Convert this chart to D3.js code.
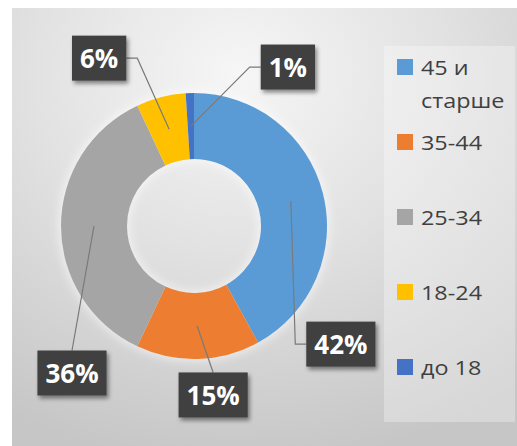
<!DOCTYPE html>
<html>
<head>
<meta charset="utf-8">
<script src="https://cdn.jsdelivr.net/npm/d3@7"></script>
<style>
  body { margin: 0; background: #fff; }
  svg { display: block; }
</style>
</head>
<body>
<div id="chart"></div>
<script>
// data
const categories = ["45 и старше", "35-44", "25-34", "18-24", "до 18"];
const shares = [42, 15, 36, 6, 1];
const colors = ["#5B9BD5", "#ED7D31", "#A5A5A5", "#FFC000", "#4472C4"];

// label placement (offset of the box from the slice centroid, and which side the leader meets)
const labelNudge = [[50, 143], [16, 69], [-22, 147], [-70, -71], [97, -59]];
const labelSide = ["left", "top", "top", "right", "left"];

const width = 517, height = 446;
const cx = 194, cy = 226;
const outerR = 133, innerR = 67;

const svg = d3.select("#chart")
    .append("svg")
    .attr("width", width)
    .attr("height", height);

const defs = svg.append("defs");

const bg = defs.append("radialGradient")
    .attr("id", "bg")
    .attr("cx", "45%").attr("cy", "15%").attr("r", "90%");
bg.append("stop").attr("offset", "0%").attr("stop-color", "#f6f6f6");
bg.append("stop").attr("offset", "45%").attr("stop-color", "#e2e2e2");
bg.append("stop").attr("offset", "100%").attr("stop-color", "#c6c6c6");

const shadow = defs.append("filter")
    .attr("id", "shadow")
    .attr("x", "-30%").attr("y", "-30%").attr("width", "160%").attr("height", "160%");
shadow.append("feDropShadow")
    .attr("dx", 2).attr("dy", 3)
    .attr("stdDeviation", 2)
    .attr("flood-color", "#000")
    .attr("flood-opacity", 0.45);

const glow = defs.append("filter")
    .attr("id", "glow")
    .attr("x", "-20%").attr("y", "-20%").attr("width", "140%").attr("height", "140%");
glow.append("feGaussianBlur").attr("stdDeviation", 4);

// chart area
svg.append("rect")
    .attr("x", 12).attr("y", 8)
    .attr("width", width - 12).attr("height", height - 8)
    .attr("fill", "url(#bg)");

// legend panel
svg.append("rect")
    .attr("x", 384).attr("y", 46)
    .attr("width", 131).attr("height", 376)
    .attr("fill", "#fff")
    .attr("opacity", 0.3);

const g = svg.append("g")
    .attr("transform", `translate(${cx}, ${cy})`);

const pie = d3.pie().sort(null).value(d => d);
const arcs = pie(shares);

const arc = d3.arc().innerRadius(innerR).outerRadius(outerR);
const midArc = d3.arc().innerRadius((innerR + outerR) / 2).outerRadius((innerR + outerR) / 2);
const haloArc = d3.arc().innerRadius(innerR - 3).outerRadius(outerR + 3);

// soft halo behind the ring
g.append("g")
    .attr("filter", "url(#glow)")
    .selectAll("path")
    .data(arcs)
    .join("path")
    .attr("d", haloArc)
    .attr("fill", "#fff")
    .attr("opacity", 0.5);

g.selectAll("path.slice")
    .data(arcs)
    .join("path")
    .attr("class", "slice")
    .attr("d", arc)
    .attr("fill", (d, i) => colors[i]);

// data labels with leader lines
const boxH = 45, pad = 8, elbow = 11;
const labels = g.append("g");

arcs.forEach((d, i) => {
    const [px, py] = midArc.centroid(d);
    const bx = px + labelNudge[i][0];
    const by = py + labelNudge[i][1];

    const lbl = labels.append("g");
    const txt = lbl.append("text")
        .attr("x", bx).attr("y", by)
        .attr("text-anchor", "middle")
        .attr("dominant-baseline", "central")
        .style("font-family", "'Open Sans', sans-serif")
        .style("font-weight", "bold")
        .style("font-size", "26px")
        .attr("fill", "#fff")
        .text(shares[i] + "%");
    const tw = txt.node().getComputedTextLength();
    const bw = tw + pad * 2;

    let pts;
    if (labelSide[i] === "left") {
        const ax = bx - bw / 2;
        pts = [[px, py], [ax - elbow, by], [ax, by]];
    } else if (labelSide[i] === "right") {
        const ax = bx + bw / 2;
        pts = [[px, py], [ax + elbow, by], [ax, by]];
    } else {
        pts = [[px, py], [bx, by - boxH / 2]];
    }
    labels.insert("path", ":first-child")
        .attr("d", d3.line()(pts))
        .attr("fill", "none")
        .attr("stroke", "#7a7a7a")
        .attr("stroke-width", 1.2);

    lbl.insert("rect", "text")
        .attr("x", bx - bw / 2).attr("y", by - boxH / 2)
        .attr("width", bw).attr("height", boxH)
        .attr("fill", "#404040")
        .attr("filter", "url(#shadow)");
});

// legend
const legend = svg.append("g");
const legendX = 397, legendY0 = 67, legendStep = 75, lineH = 33;

categories.forEach((name, i) => {
    const y = legendY0 + i * legendStep;
    legend.append("rect")
        .attr("x", legendX).attr("y", y - 8)
        .attr("width", 16).attr("height", 16)
        .attr("fill", colors[i]);

    const t = legend.append("text")
        .attr("transform", `translate(${legendX + 24}, ${y + 8}) scale(1.17, 1)`)
        .style("font-family", "'Open Sans', sans-serif")
        .style("font-size", "20px")
        .attr("fill", "#404040");

    // wrap words that do not fit the panel
    const words = name.split(" ");
    let line = [], lineNo = 0;
    let tspan = t.append("tspan").attr("x", 0).attr("y", 0);
    words.forEach(w => {
        line.push(w);
        tspan.text(line.join(" "));
        if (tspan.node().getComputedTextLength() * 1.17 > 92 && line.length > 1) {
            line.pop();
            tspan.text(line.join(" "));
            line = [w];
            lineNo++;
            tspan = t.append("tspan").attr("x", 0).attr("y", lineNo * lineH).text(w);
        }
    });
});
</script>
</body>
</html>
